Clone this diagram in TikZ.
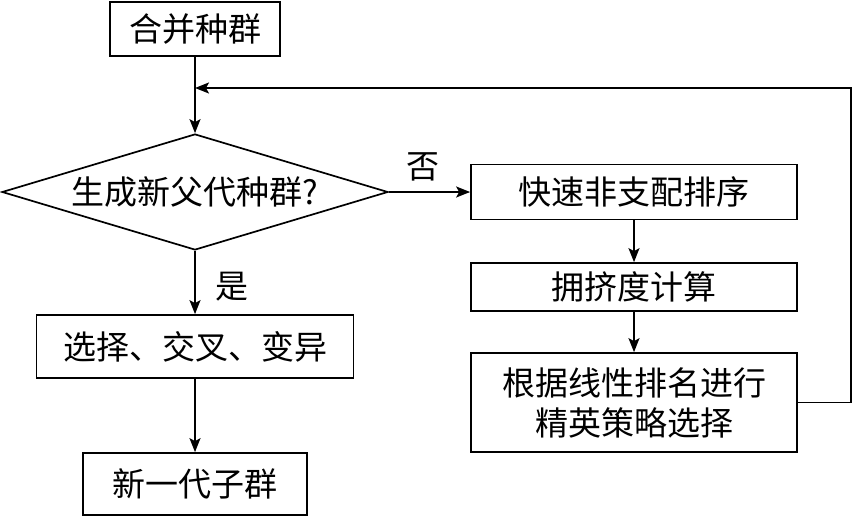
\documentclass[tikz,border=0pt]{standalone}
\usepackage{fontspec}
\setmainfont{Noto Sans CJK SC}
\usetikzlibrary{arrows.meta, positioning, shapes.geometric}

\begin{document}
\begin{tikzpicture}[x=1pt, y=-1pt, line width=1.7pt]
  \tikzset{
    box/.style={draw, rectangle, inner sep=0pt, align=center,
      font=\fontsize{33}{40}\selectfont},
    decide/.style={draw, diamond, inner sep=0pt, aspect=3.3,
      minimum width=386pt, minimum height=116pt,
      font=\fontsize{33}{40}\selectfont},
    flow/.style={-{Stealth[length=14pt, width=11pt, inset=3pt]}},
    tag/.style={font=\fontsize{33}{40}\selectfont}
  }
  \useasboundingbox (0,0) rectangle (853,516);

  % ---- left column ----
  \node[box, minimum width=170pt, minimum height=54pt] (merge) at (195,29) {合并种群};
  \node[decide] (check) at (195,192) {生成新父代种群?};
  \node[box, minimum width=317pt, minimum height=63pt] (evolve) at (195,346.5) {选择、交叉、变异};
  \node[box, minimum width=224pt, minimum height=62pt] (offspring) at (195,484) {新一代子群};

  % ---- right column ----
  \node[box, minimum width=326pt, minimum height=55pt] (sort) at (634,192) {快速非支配排序};
  \node[box, minimum width=326pt, minimum height=48pt] (crowd) at (634,287) {拥挤度计算};
  \node[box, minimum width=326pt, minimum height=99pt] (elite) at (634,402.5) {根据线性排名进行\\精英策略选择};

  % ---- connectors ----
  \coordinate (join) at (195,88);
  \coordinate (back) at (851,88);
  \draw[flow] (merge) -- (check);
  \draw[flow] (check.east) -- (sort.west);
  \draw[flow] (check) -- (evolve);
  \draw[flow] (evolve) -- (offspring);
  \draw[flow] (sort) -- (crowd);
  \draw[flow] (crowd) -- (elite);
  \draw[flow] (elite.east) -| (back) -- (join);

  % ---- branch labels ----
  \node[tag] (no) at (423,167) {否};
  \node[tag] (yes) at (232,287) {是};
\end{tikzpicture}
\end{document}
